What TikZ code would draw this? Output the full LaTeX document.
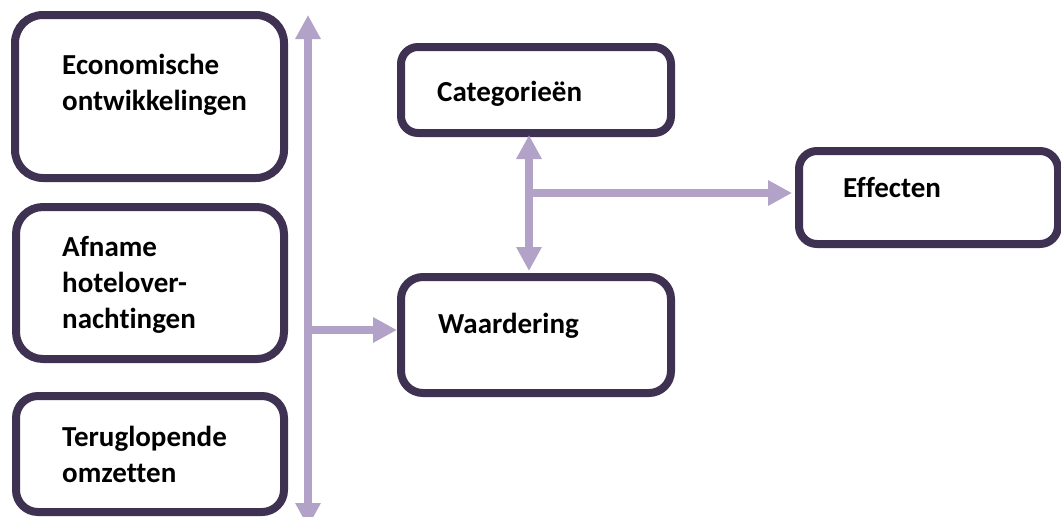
\documentclass[tikz,border=0pt]{standalone}
\usepackage{fontspec}
\setmainfont{Carlito}[Ligatures=NoCommon]
\usetikzlibrary{arrows.meta,calc}
\definecolor{boxline}{HTML}{3F3151}
\definecolor{arrowcol}{HTML}{B3A2C7}
\tikzset{
  rbox/.style={draw=boxline, line width=8pt, fill=white, inner sep=0pt},
  txt/.style={anchor=base west, align=left, inner sep=0pt, font=\fontsize{29}{36}\selectfont\bfseries},
  flow/.style={draw=arrowcol, line width=7.5pt, -{Triangle[length=24pt,width=24pt]}},
  flow2/.style={draw=arrowcol, line width=7.5pt, {Triangle[length=24pt,width=24pt]}-{Triangle[length=24pt,width=24pt]}}
}
\begin{document}
\begin{tikzpicture}[x=1pt,y=-1pt]
\useasboundingbox (0,0) rectangle (1061,517);
% boxes
\node[rbox, minimum width=269pt, minimum height=163pt, rounded corners=28pt] (b1) at (149.5,96.5) {};
\node[rbox, minimum width=268pt, minimum height=152pt, rounded corners=27pt] (b2) at (150,283) {};
\node[rbox, minimum width=268pt, minimum height=116pt, rounded corners=22pt] (b3) at (150,454) {};
\node[rbox, minimum width=270pt, minimum height=86pt, rounded corners=17pt] (cat) at (536,90) {};
\node[rbox, minimum width=270pt, minimum height=116pt, rounded corners=22pt] (waard) at (536,335) {};
\node[rbox, minimum width=259pt, minimum height=93pt, rounded corners=18pt] (eff) at (928.5,197.5) {};
% texts (base anchor = last line)
\node[txt] (t1) at (62,110) {Economische\\ontwikkelingen};
\node[txt] (t2) at (62,328) {Afname\\hotelover-\\nachtingen};
\node[txt] (t3) at (62,482) {Teruglopende\\omzetten};
\node[txt] (t4) at (437,101) {Categorieën};
\node[txt] (t5) at (438,333) {Waardering};
\node[txt] (t6) at (843,197) {Effecten};
% connectors
\coordinate (vtop) at (308,15);
\coordinate (vbot) at (308,527);
\coordinate (m) at (308,330);
\coordinate (j) at (529,193);
\draw[flow2] (vtop) -- (vbot);
\draw[flow] (m) -- (m -| waard.west);
\draw[flow2, shorten <=-2pt, shorten >=2pt] (j |- cat.south) -- (j |- waard.north);
\draw[flow] (j) -- ($(j -| eff.west)+(-3,0)$);
\end{tikzpicture}
\end{document}
